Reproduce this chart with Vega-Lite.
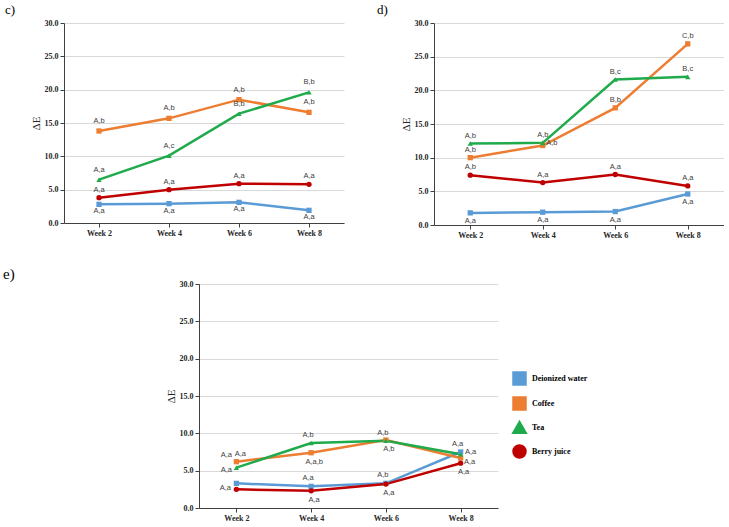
{
  "$schema": "https://vega.github.io/schema/vega-lite/v6.json",
  "padding": {"left": 3, "top": 4, "right": 0, "bottom": 0},
  "background": "white",
  "config": {
    "view": {"stroke": null},
    "axis": {"labelFont": "Liberation Serif", "labelFontWeight": "bold", "labelFontSize": 8, "labelColor": "#262626", "titleFont": "Liberation Serif", "titleFontWeight": "normal", "titleFontSize": 11, "titleColor": "#262626", "domainColor": "#404040", "tickColor": "#404040", "gridColor": "#d9d9d9", "tickSize": 4, "labelPadding": 2},
    "axisX": {"grid": false, "labelAngle": 0},
    "axisY": {"grid": true, "titlePadding": 3},
    "title": {"font": "Liberation Serif", "fontWeight": "normal", "color": "#000000", "anchor": "start", "frame": "group"},
    "text": {"font": "Liberation Sans", "fontSize": 7.5, "color": "#404040", "baseline": "middle", "align": "center"},
    "point": {"filled": true, "opacity": 1, "size": 28},
    "line": {"strokeWidth": 2.5}
  },
  "datasets": {
    "c": [
      {"series": "Deionized water", "week": "Week 2", "value": 2.8, "label": "A,a"},
      {"series": "Deionized water", "week": "Week 4", "value": 2.9, "label": "A,a"},
      {"series": "Deionized water", "week": "Week 6", "value": 3.1, "label": "A,a"},
      {"series": "Deionized water", "week": "Week 8", "value": 1.9, "label": "A,a"},
      {"series": "Coffee", "week": "Week 2", "value": 13.8, "label": "A,b"},
      {"series": "Coffee", "week": "Week 4", "value": 15.7, "label": "A,b"},
      {"series": "Coffee", "week": "Week 6", "value": 18.5, "label": "A,b"},
      {"series": "Coffee", "week": "Week 8", "value": 16.6, "label": "A,b"},
      {"series": "Tea", "week": "Week 2", "value": 6.5, "label": "A,a"},
      {"series": "Tea", "week": "Week 4", "value": 10.1, "label": "A,c"},
      {"series": "Tea", "week": "Week 6", "value": 16.4, "label": "B,b"},
      {"series": "Tea", "week": "Week 8", "value": 19.6, "label": "B,b"},
      {"series": "Berry juice", "week": "Week 2", "value": 3.8, "label": "A,a"},
      {"series": "Berry juice", "week": "Week 4", "value": 5.0, "label": "A,a"},
      {"series": "Berry juice", "week": "Week 6", "value": 5.9, "label": "A,a"},
      {"series": "Berry juice", "week": "Week 8", "value": 5.8, "label": "A,a"}
    ],
    "d": [
      {"series": "Deionized water", "week": "Week 2", "value": 1.8, "label": "A,a"},
      {"series": "Deionized water", "week": "Week 4", "value": 1.9, "label": "A,a"},
      {"series": "Deionized water", "week": "Week 6", "value": 2.0, "label": "A,a"},
      {"series": "Deionized water", "week": "Week 8", "value": 4.6, "label": "A,a"},
      {"series": "Coffee", "week": "Week 2", "value": 10.0, "label": "A,b"},
      {"series": "Coffee", "week": "Week 4", "value": 11.8, "label": "A,b"},
      {"series": "Coffee", "week": "Week 6", "value": 17.4, "label": "B,b"},
      {"series": "Coffee", "week": "Week 8", "value": 26.9, "label": "C,b"},
      {"series": "Tea", "week": "Week 2", "value": 12.1, "label": "A,b"},
      {"series": "Tea", "week": "Week 4", "value": 12.2, "label": "A,b"},
      {"series": "Tea", "week": "Week 6", "value": 21.6, "label": "B,c"},
      {"series": "Tea", "week": "Week 8", "value": 22.0, "label": "B,c"},
      {"series": "Berry juice", "week": "Week 2", "value": 7.4, "label": "A,b"},
      {"series": "Berry juice", "week": "Week 4", "value": 6.3, "label": "A,a"},
      {"series": "Berry juice", "week": "Week 6", "value": 7.5, "label": "A,a"},
      {"series": "Berry juice", "week": "Week 8", "value": 5.8, "label": "A,a"}
    ],
    "e": [
      {"series": "Deionized water", "week": "Week 2", "value": 3.3, "label": "A,a"},
      {"series": "Deionized water", "week": "Week 4", "value": 2.9, "label": "A,a"},
      {"series": "Deionized water", "week": "Week 6", "value": 3.3, "label": "A,b"},
      {"series": "Deionized water", "week": "Week 8", "value": 7.5, "label": "A,a"},
      {"series": "Coffee", "week": "Week 2", "value": 6.2, "label": "A,a"},
      {"series": "Coffee", "week": "Week 4", "value": 7.4, "label": "A,a,b"},
      {"series": "Coffee", "week": "Week 6", "value": 9.1, "label": "A,b"},
      {"series": "Coffee", "week": "Week 8", "value": 6.7, "label": "A,a"},
      {"series": "Tea", "week": "Week 2", "value": 5.4, "label": "A,a"},
      {"series": "Tea", "week": "Week 4", "value": 8.7, "label": "A,b"},
      {"series": "Tea", "week": "Week 6", "value": 9.0, "label": "A,b"},
      {"series": "Tea", "week": "Week 8", "value": 7.2, "label": "A,a"},
      {"series": "Berry juice", "week": "Week 2", "value": 2.5, "label": "A,a"},
      {"series": "Berry juice", "week": "Week 4", "value": 2.3, "label": "A,a"},
      {"series": "Berry juice", "week": "Week 6", "value": 3.2, "label": "A,a"},
      {"series": "Berry juice", "week": "Week 8", "value": 6.0, "label": "A,a"}
    ]
  },
  "spacing": 28,
  "vconcat": [
    {
      "spacing": 33,
      "hconcat": [
        {
          "width": 280, "height": 200,
          "title": {"text": "c)", "fontSize": 13, "dx": -59, "offset": 2},
          "data": {"name": "c"},
          "encoding": {
            "x": {"field": "week", "type": "ordinal", "scale": {"type": "point", "padding": 0.5}, "title": null},
            "y": {"field": "value", "type": "quantitative", "scale": {"domain": [0, 30], "nice": false}, "axis": {"values": [0, 5, 10, 15, 20, 25, 30], "format": ".1f"}, "title": "ΔE"}
          },
          "layer": [
            {"mark": "line", "encoding": {"color": {"field": "series", "type": "nominal", "scale": {"domain": ["Deionized water", "Coffee", "Tea", "Berry juice"], "range": ["#5B9BD5", "#ED7D31", "#1FAA4B", "#C00000"]}}}},
            {"mark": "point", "encoding": {"color": {"field": "series", "type": "nominal"}, "shape": {"field": "series", "type": "nominal", "scale": {"domain": ["Deionized water", "Coffee", "Tea", "Berry juice"], "range": ["square", "square", "triangle-up", "circle"]}, "legend": null}}},
            {"transform": [{"filter": "datum.series == 'Deionized water'"}], "mark": {"type": "text", "dy": 7}, "encoding": {"text": {"field": "label"}}},
            {"transform": [{"filter": "datum.series == 'Coffee' || datum.series == 'Tea'"}], "mark": {"type": "text", "dy": -10}, "encoding": {"text": {"field": "label"}}},
            {"transform": [{"filter": "datum.series == 'Berry juice'"}], "mark": {"type": "text", "dy": -8}, "encoding": {"text": {"field": "label"}}}
          ]
        },
        {
          "width": 290, "height": 202,
          "title": {"text": "d)", "fontSize": 13, "dx": -57, "offset": 2},
          "data": {"name": "d"},
          "encoding": {
            "x": {"field": "week", "type": "ordinal", "scale": {"type": "point", "padding": 0.5}, "title": null},
            "y": {"field": "value", "type": "quantitative", "scale": {"domain": [0, 30], "nice": false}, "axis": {"values": [0, 5, 10, 15, 20, 25, 30], "format": ".1f"}, "title": "ΔE"}
          },
          "layer": [
            {"mark": "line", "encoding": {"color": {"field": "series", "type": "nominal"}}},
            {"mark": "point", "encoding": {"color": {"field": "series", "type": "nominal"}, "shape": {"field": "series", "type": "nominal", "legend": null}}},
            {"transform": [{"filter": "datum.series == 'Deionized water'"}], "mark": {"type": "text", "dy": 8}, "encoding": {"text": {"field": "label"}}},
            {"transform": [{"filter": "datum.series != 'Deionized water' && !(datum.series == 'Coffee' && datum.week == 'Week 4')"}], "mark": {"type": "text", "dy": -8}, "encoding": {"text": {"field": "label"}}},
            {"transform": [{"filter": "datum.series == 'Coffee' && datum.week == 'Week 4'"}], "mark": {"type": "text", "dx": 9, "dy": -3}, "encoding": {"text": {"field": "label"}}}
          ]
        }
      ]
    },
    {
      "spacing": 4,
      "hconcat": [
        {
          "width": 97, "height": 224,
          "title": {"text": "e)", "fontSize": 15, "dx": -61, "offset": 2},
          "data": {"values": [{"blank": 0}]},
          "mark": {"type": "point", "opacity": 0},
          "encoding": {}
        },
        {
          "width": 299, "height": 224,
          "data": {"name": "e"},
          "encoding": {
            "x": {"field": "week", "type": "ordinal", "scale": {"type": "point", "padding": 0.5}, "title": null},
            "y": {"field": "value", "type": "quantitative", "scale": {"domain": [0, 30], "nice": false}, "axis": {"values": [0, 5, 10, 15, 20, 25, 30], "format": ".1f"}, "title": "ΔE"}
          },
          "layer": [
            {"mark": "line", "encoding": {"color": {"field": "series", "type": "nominal", "legend": {"title": null, "orient": "none", "legendX": 448, "legendY": 348, "symbolType": "M-1.4,0H1.4M-0.3,-0.3H0.3V0.3H-0.3Z", "symbolSize": 144, "symbolStrokeWidth": 2.5, "labelFont": "Liberation Serif", "labelFontWeight": "bold", "labelFontSize": 8, "labelColor": "#000000", "labelOffset": 5, "rowPadding": 2, "padding": 0, "encode": {"symbols": {"update": {"shape": {"value": "M-1.4,0H1.4M-0.3,-0.3H0.3V0.3H-0.3Z"}, "size": {"value": 144}, "stroke": {"scale": "color", "field": "value"}, "fill": {"scale": "color", "field": "value"}, "strokeWidth": {"value": 2.5}}}}}}}},
            {"mark": "point", "encoding": {"color": {"field": "series", "type": "nominal"}, "shape": {"field": "series", "type": "nominal", "legend": null}}},
            {"transform": [{"filter": "datum.week != 'Week 2' && datum.week != 'Week 8' && (datum.series == 'Tea' || datum.series == 'Deionized water') || (datum.week == 'Week 8' && datum.series == 'Deionized water')"}], "mark": {"type": "text", "dx": -3, "dy": -8}, "encoding": {"text": {"field": "label"}}},
            {"transform": [{"filter": "datum.week != 'Week 2' && datum.week != 'Week 8' && (datum.series == 'Coffee' || datum.series == 'Berry juice') || (datum.week == 'Week 8' && datum.series == 'Berry juice')"}], "mark": {"type": "text", "dx": 3, "dy": 9}, "encoding": {"text": {"field": "label"}}},
            {"transform": [{"filter": "datum.week == 'Week 8' && datum.series == 'Tea'"}], "mark": {"type": "text", "dx": 10, "dy": -2}, "encoding": {"text": {"field": "label"}}},
            {"transform": [{"filter": "datum.week == 'Week 8' && datum.series == 'Coffee'"}], "mark": {"type": "text", "dx": 9, "dy": 4}, "encoding": {"text": {"field": "label"}}},
            {"transform": [{"filter": "datum.week == 'Week 2' && datum.series == 'Coffee'"}], "mark": {"type": "text", "dx": -10, "dy": -7}, "encoding": {"text": {"field": "label"}}},
            {"transform": [{"filter": "datum.week == 'Week 2' && datum.series == 'Tea'"}], "mark": {"type": "text", "dx": 4, "dy": -14}, "encoding": {"text": {"field": "label"}}},
            {"transform": [{"filter": "datum.week == 'Week 2' && datum.series == 'Deionized water'"}], "mark": {"type": "text", "dx": -10, "dy": -13}, "encoding": {"text": {"field": "label"}}},
            {"transform": [{"filter": "datum.week == 'Week 2' && datum.series == 'Berry juice'"}], "mark": {"type": "text", "dx": -11, "dy": -1}, "encoding": {"text": {"field": "label"}}}
          ]
        }
      ]
    }
  ]
}
